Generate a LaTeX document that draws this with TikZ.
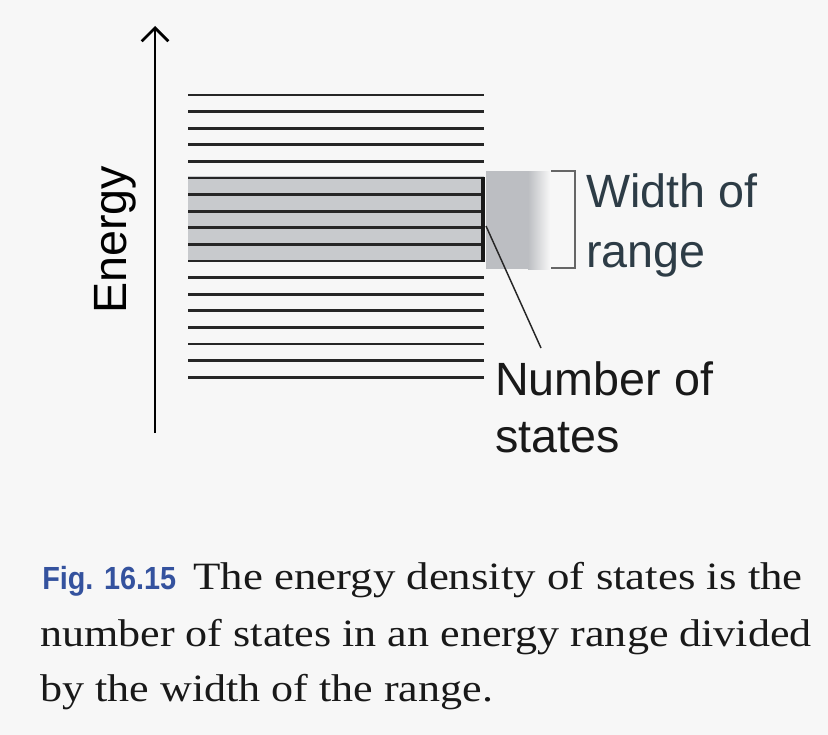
\documentclass[tikz,border=0pt]{standalone}
\usepackage{fontspec}
\setmainfont{Liberation Serif}
\newfontfamily\lsans{Liberation Sans}
\usetikzlibrary{arrows.meta}
\definecolor{bgcol}{RGB}{247,247,247}
\definecolor{figblue}{RGB}{52,82,158}
\definecolor{slate}{RGB}{45,60,70}
\definecolor{rangegray}{RGB}{200,202,205}
\definecolor{patchgray}{RGB}{188,190,194}
\tikzset{
  level/.style={line width=2.1pt, black!85},
  lbl/.style={inner sep=0pt, anchor=base west, font=\lsans\fontsize{35}{42}\selectfont},
  captxt/.style={inner sep=0pt, anchor=base west, text=black!90, font=\fontsize{29}{35}\selectfont},
}
\begin{document}
\begin{tikzpicture}[x=0.75pt,y=-0.75pt]
\fill[bgcol] (0,0) rectangle (828,735);
\useasboundingbox (0,0) rectangle (828,735);
% shaded range
\fill[rangegray] (188,176) rectangle (484,262);
\fill[patchgray] (486,171) rectangle (528,269);
\shade[left color=patchgray, right color=bgcol] (528,171) rectangle (550,269);
% levels
\foreach \i in {0,...,17}{
  \draw[level] (188,{95+\i*16.6}) -- (484,{95+\i*16.6});
}
% vertical bar of the range
\draw[line width=2.4pt, black!90] (483,177) -- (483,262);
% energy axis
\coordinate (axbot) at (155,433);
\coordinate (axtop) at (155,26);
\draw[line width=1.6pt, -{Straight Barb[length=10pt,width=20pt,line width=2pt]}] (axbot) -- (axtop);
\node[lbl, rotate=90] (energy) at (126,314) {Energy};
% bracket
\draw[line width=1.3pt, black!60] (551,171) -- (575,171) -- (575,268) -- (551,268);
% labels
\node[lbl, text=slate] (width) at (586,207) {Width of};
\node[lbl, text=slate] (range) at (586,267) {range};
\node[lbl, text=black!90] (num) at (495,395) {Number of};
\node[lbl, text=black!90] (states) at (495,452) {states};
% pointer
\coordinate (ptr) at (486,226);
\coordinate (ptrend) at (541,348);
\draw[line width=1.1pt, black!85] (ptr) -- (ptrend);
% caption
\node[inner sep=0pt, anchor=base west, text=figblue] (fig) at (42,589)
  {\scalebox{0.9}[1]{\lsans\bfseries\fontsize{24}{28}\selectfont Fig. 16.15}};
\node[captxt] (c1) at (193,589) {\scalebox{1.16}[1]{The energy density of states is the}};
\node[captxt] (c2) at (40,646) {\scalebox{1.14}[1]{number of states in an energy range divided}};
\node[captxt] (c3) at (40,701) {\scalebox{1.14}[1]{by the width of the range.}};
\end{tikzpicture}
\end{document}
